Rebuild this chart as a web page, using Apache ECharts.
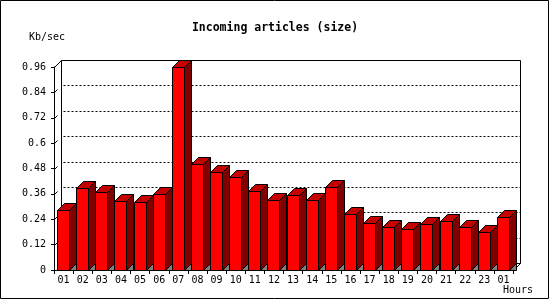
<!DOCTYPE html>
<html>
<head>
<meta charset="utf-8">
<script src="https://cdn.jsdelivr.net/npm/echarts@6/dist/echarts.min.js"></script>
<style>
html,body{margin:0;padding:0;background:#fff;}
#chart{width:550px;height:300px;}
</style>
</head>
<body>
<div id="chart"></div>
<script>
const hours = ['01','02','03','04','05','06','07','08','09','10','11','12','13','14','15','16','17','18','19','20','21','22','23','01'];
const kbPerSec = [0.282,0.386,0.367,0.325,0.320,0.358,0.958,0.500,0.462,0.438,0.372,0.330,0.353,0.330,0.392,0.263,0.221,0.202,0.192,0.216,0.230,0.202,0.178,0.249];
const yTicks = [0,0.12,0.24,0.36,0.48,0.6,0.72,0.84,0.96];
const gridValues = yTicks.slice(1, -1);
const yMax = yTicks[yTicks.length - 1];
const yStep = yTicks[1];

const D = 7; // 3D depth in px
const FONT = 'DejaVu Sans Mono';

const chart = echarts.init(document.getElementById('chart'), null, {renderer: 'canvas'});

function px(v) { return Math.round(v) + 0.5; }

function renderFrame(params, api) {
  const cs = params.coordSys;
  const L = px(cs.x), R = px(cs.x + cs.width);
  const T = px(api.coord([0, yMax])[1]);
  const B = px(api.coord([0, 0])[1]);
  const st = {stroke: '#000', lineWidth: 1, fill: null};
  const lines = [
    [L + D, T - D, R + D, T - D],
    [L + D, T - D, L + D, B - D],
    [R + D, T - D, R + D, B - D],
    [L + D, B - D, R + D, B - D],
    [L, T, L + D, T - D],
    [R, B, R + D, B - D]
  ];
  return {
    type: 'group',
    children: lines.map(l => ({type: 'line', shape: {x1: l[0], y1: l[1], x2: l[2], y2: l[3]}, style: st}))
  };
}

function renderGrid(params, api) {
  const cs = params.coordSys;
  const L = px(cs.x), R = px(cs.x + cs.width);
  const y = px(api.coord([0, api.value(1)])[1]);
  return {
    type: 'group',
    children: [
      {type: 'line', shape: {x1: L + D + 2, y1: y - D, x2: R + D, y2: y - D},
       style: {stroke: '#000', lineWidth: 1, lineDash: [2, 2]}},
      {type: 'line', shape: {x1: L, y1: y, x2: L + 3, y2: y - 3},
       style: {stroke: '#000', lineWidth: 1}}
    ]
  };
}

function renderBar(params, api) {
  const idx = api.value(0);
  const c = api.coord([idx, api.value(1)]);
  const base = api.coord([idx, 0]);
  const slot = api.size([1, 0])[0];
  const w = Math.round(slot * 12 / 19.125);
  const x0 = px(c[0] - w / 2 - 0.5);
  const x1 = x0 + w;
  const yT = px(c[1]);
  const yB = px(base[1]);
  const stroke = {stroke: '#000', lineWidth: 1};
  return {
    type: 'group',
    children: [
      {type: 'polygon', shape: {points: [[x1, yB], [x1 + D, yB - D], [x1 + D, yB]]},
       style: Object.assign({fill: '#808080'}, stroke)},
      {type: 'polygon', shape: {points: [[x1, yT], [x1 + D, yT - D], [x1 + D, yB - D], [x1, yB]]},
       style: Object.assign({fill: '#800000'}, stroke)},
      {type: 'polygon', shape: {points: [[x0, yT], [x0 + D, yT - D], [x1 + D, yT - D], [x1, yT]]},
       style: Object.assign({fill: '#c40000'}, stroke)},
      {type: 'rect', shape: {x: x0, y: yT, width: w, height: yB - yT},
       style: Object.assign({fill: '#ff0000'}, stroke)}
    ]
  };
}

const option = {
  animation: false,
  backgroundColor: '#fff',
  title: {
    text: 'Incoming articles (size)',
    left: 'center',
    top: 17,
    textStyle: {fontFamily: FONT, fontSize: 11.5, fontWeight: 'bold', color: '#000'}
  },
  grid: {left: 54, right: 37, top: 67, bottom: 30, containLabel: false},
  xAxis: {
    type: 'category',
    data: hours,
    boundaryGap: true,
    axisLine: {lineStyle: {color: '#000', width: 1}},
    axisTick: {show: true, length: 4, lineStyle: {color: '#000'}},
    axisLabel: {interval: 0, margin: 5, fontFamily: FONT, fontSize: 10, color: '#000'},
    splitLine: {show: false}
  },
  yAxis: {
    type: 'value',
    min: 0,
    max: yMax,
    interval: yStep,
    axisLine: {show: true, lineStyle: {color: '#000', width: 1}},
    axisTick: {show: true, length: 3, lineStyle: {color: '#000'}},
    axisLabel: {margin: 8, fontFamily: FONT, fontSize: 10, color: '#000'},
    splitLine: {show: false}
  },
  graphic: [
    {type: 'rect', shape: {x: 0.5, y: 0.5, width: 548, height: 298},
     style: {fill: null, stroke: '#000', lineWidth: 1}, z: 100, silent: true},
    {type: 'text', left: 29, top: 32, style: {text: 'Kb/sec', font: '10px "DejaVu Sans Mono"', fill: '#000'}},
    {type: 'text', left: 503, top: 285, style: {text: 'Hours', font: '10px "DejaVu Sans Mono"', fill: '#000'}}
  ],
  series: [
    {type: 'custom', name: 'frame', renderItem: renderFrame, data: [[0, 0]], z: 1, silent: true, clip: false},
    {type: 'custom', name: 'grid', renderItem: renderGrid, data: gridValues.map(v => [0, v]), z: 1, silent: true, clip: false},
    {type: 'custom', name: 'size', renderItem: renderBar,
     data: kbPerSec.map((v, i) => [i, v]), encode: {x: 0, y: 1}, z: 3, clip: false}
  ]
};
chart.setOption(option);
</script>
</body>
</html>
